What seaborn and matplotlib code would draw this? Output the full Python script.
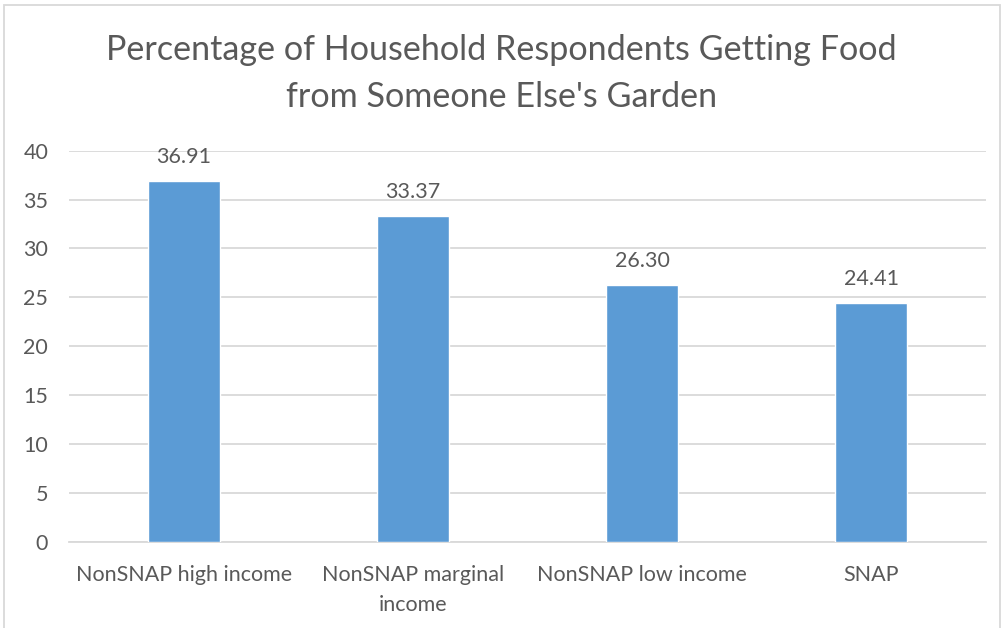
import matplotlib
matplotlib.use("Agg")
import matplotlib.pyplot as plt
import seaborn as sns
import pandas as pd
from matplotlib.patches import Rectangle

categories = ["NonSNAP high income", "NonSNAP marginal\nincome", "NonSNAP low income", "SNAP"]
values = [36.91, 33.37, 26.30, 24.41]
yticks = [0, 5, 10, 15, 20, 25, 30, 35, 40]
title = "Percentage of Household Respondents Getting Food\nfrom Someone Else's Garden"

sns.set_theme(style="white")
plt.rcParams["font.family"] = ["Lato", "DejaVu Sans"]

text_color = "#595959"
grid_color = "#D9D9D9"
bar_color = "#5B9BD5"

W, H = 1003, 628
fig = plt.figure(figsize=(W / 100, H / 100), dpi=100)
ax = fig.add_axes([69 / W, (H - 541.7) / H, (986 - 69) / W, (541.7 - 150.7) / H])

df = pd.DataFrame({"group": categories, "pct": values})
sns.barplot(data=df, x="group", y="pct", color=bar_color, saturation=1,
            width=0.314, ax=ax, zorder=3)

ax.set_xlim(-0.5, len(categories) - 0.5)
ax.set_ylim(0, 40)
ax.set_yticks(yticks)
ax.set_yticklabels([str(t) for t in yticks])
ax.yaxis.grid(True, color=grid_color, linewidth=1.3, zorder=0)
ax.set_axisbelow(True)
for s in ["top", "right", "left"]:
    ax.spines[s].set_visible(False)
ax.spines["bottom"].set_color(grid_color)
ax.spines["bottom"].set_linewidth(1.3)
ax.set_xlabel("")
ax.set_ylabel("")
ax.tick_params(axis="both", length=0, colors=text_color, labelsize=15.5)
ax.tick_params(axis="y", pad=15)
ax.tick_params(axis="x", pad=17)
for lbl in ax.get_xticklabels():
    lbl.set_linespacing(1.6)
    lbl.set_verticalalignment("top")

for i, v in enumerate(values):
    ax.annotate(f"{v:.2f}", (i, v), xytext=(0, 10), textcoords="offset points",
                ha="center", va="bottom", color=text_color, fontsize=15.5)

fig.text(0.5, (H - 73.5) / H, title, ha="center", va="center", color=text_color,
         fontsize=24.6, linespacing=1.6)

fig.patches.append(Rectangle((4 / W, -0.1), (1000 - 4) / W, (H - 5) / H + 0.1,
                             transform=fig.transFigure, fill=False,
                             edgecolor=grid_color, linewidth=1.3))

fig.savefig("out.png", dpi=100)
